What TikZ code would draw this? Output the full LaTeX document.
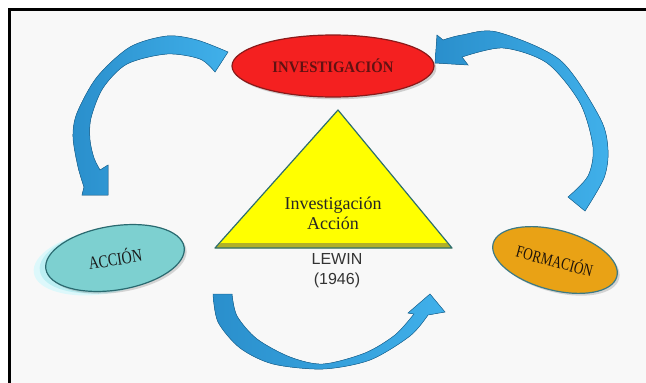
\documentclass[tikz,border=0pt]{standalone}
\usepackage{fontspec}
\usepackage{graphicx}
\setmainfont{Liberation Serif}
\setsansfont{Liberation Sans}
\usetikzlibrary{shapes.geometric,shadows}

\definecolor{bgcol}{HTML}{F8F8F8}
\definecolor{arrowedge}{HTML}{1F6E9E}
\definecolor{arrowdark}{HTML}{2A8FCC}
\definecolor{arrowlight}{HTML}{40B0EA}
\definecolor{invred}{HTML}{F42020}
\definecolor{invedge}{HTML}{8A1A1A}
\definecolor{acctil}{HTML}{7DD0D0}
\definecolor{accedge}{HTML}{2A6A70}
\definecolor{ghostone}{HTML}{BDEFF3}
\definecolor{ghosttwo}{HTML}{DDF8FB}
\definecolor{formorange}{HTML}{E9A215}
\definecolor{formedge}{HTML}{3C7A86}
\definecolor{triyellow}{HTML}{FFFF00}
\definecolor{triedge}{HTML}{2E6E6E}
\definecolor{tribevel}{HTML}{B0B028}

\tikzset{
  blockarrow/.style={draw=arrowedge, line width=0.5pt, left color=arrowdark, right color=arrowlight},
  oval/.style={ellipse, draw, line width=1.2pt, inner sep=0pt},
  ghost/.style={ellipse, fill=#1, minimum width=140pt, minimum height=64pt, rotate=9}
}

\begin{document}
\begin{tikzpicture}[x=1pt,y=-1pt]
\useasboundingbox (0,0) rectangle (646,383);
\fill[bgcol] (9.5,9.5) rectangle (646,383);
\draw[line width=3pt] (9.5,383) -- (9.5,9.5) -- (646,9.5);

% curved arrows
\filldraw[blockarrow] (228,52)
  -- plot[smooth] coordinates {(228,52) (197,40) (167,36) (130,47) (97,77) (77,113) (73,137) (78,167) (84,187)}
  -- (82,195) -- (108,195) -- (108,165) -- (100,170)
  -- plot[smooth] coordinates {(100,170) (94,158) (90,140) (91,118) (103,88) (127,64) (167,54) (200,59) (215,72)}
  -- cycle;
\filldraw[blockarrow] (437,35) -- (435,63) -- (468,65) -- (462,57)
  -- plot[smooth] coordinates {(462,57) (503,48) (547,63) (580,103) (593,147) (588,176) (568,197)}
  -- (585,211)
  -- plot[smooth] coordinates {(585,211) (604,178) (608,150) (600,118) (560,60) (497,32) (462,35) (443,40)}
  -- cycle;
\filldraw[blockarrow] (213,294) -- (232,294)
  -- plot[smooth] coordinates {(232,294) (237,316) (257,339) (290,357) (323,364) (365,353) (395,335) (414,314)}
  -- (408,313) -- (430,294) -- (445,312) -- (428,315)
  -- plot[smooth] coordinates {(428,315) (410,336) (370,360) (323,369) (273,364) (240,348) (218,322) (213,294)}
  -- cycle;

% triangle
\coordinate (top) at (338,110);
\coordinate (bl) at (215,248);
\coordinate (br) at (452,248);
\fill[triyellow] (top) -- (bl) -- (br) -- cycle;
\fill[tribevel] (221,243) -- (447,243) -- (452,248) -- (215,248) -- cycle;
\draw[triedge, line width=1.2pt, line join=round] (top) -- (bl) -- (br) -- cycle;
\node[align=center, font=\fontsize{18}{20}\selectfont, text=black!85] (ia) at (333,213) {Investigación\\Acción};
\node[align=center, font=\sffamily\fontsize{16}{20}\selectfont, text=black!80] (lewin) at (337,271) {LEWIN\\(1946)};

% ovals
\node[oval, draw=invedge, fill=invred, minimum width=202pt, minimum height=62pt, drop shadow={opacity=0.35}] (inv) at (333,66)
  {\scalebox{0.92}[1]{\textbf{\fontsize{16}{18}\selectfont\color{invedge!70!black}INVESTIGACIÓN}}};
\node[ghost=ghosttwo] (g2) at (103,262) {};
\node[ghost=ghostone] (g1) at (109,260) {};
\node[oval, draw=accedge, fill=acctil, minimum width=140pt, minimum height=64pt, rotate=9, drop shadow={opacity=0.3}] (acc) at (115,258)
  {\scalebox{0.78}[1]{\fontsize{18}{20}\selectfont\color{black!90}ACCIÓN}};
\node[oval, draw=formedge, fill=formorange, minimum width=128pt, minimum height=60pt, rotate=-15, drop shadow={opacity=0.3}] (form) at (555,260)
  {\scalebox{0.77}[1]{\fontsize{17}{19}\selectfont\color{black!85!brown}FORMACIÓN}};
\end{tikzpicture}
\end{document}
